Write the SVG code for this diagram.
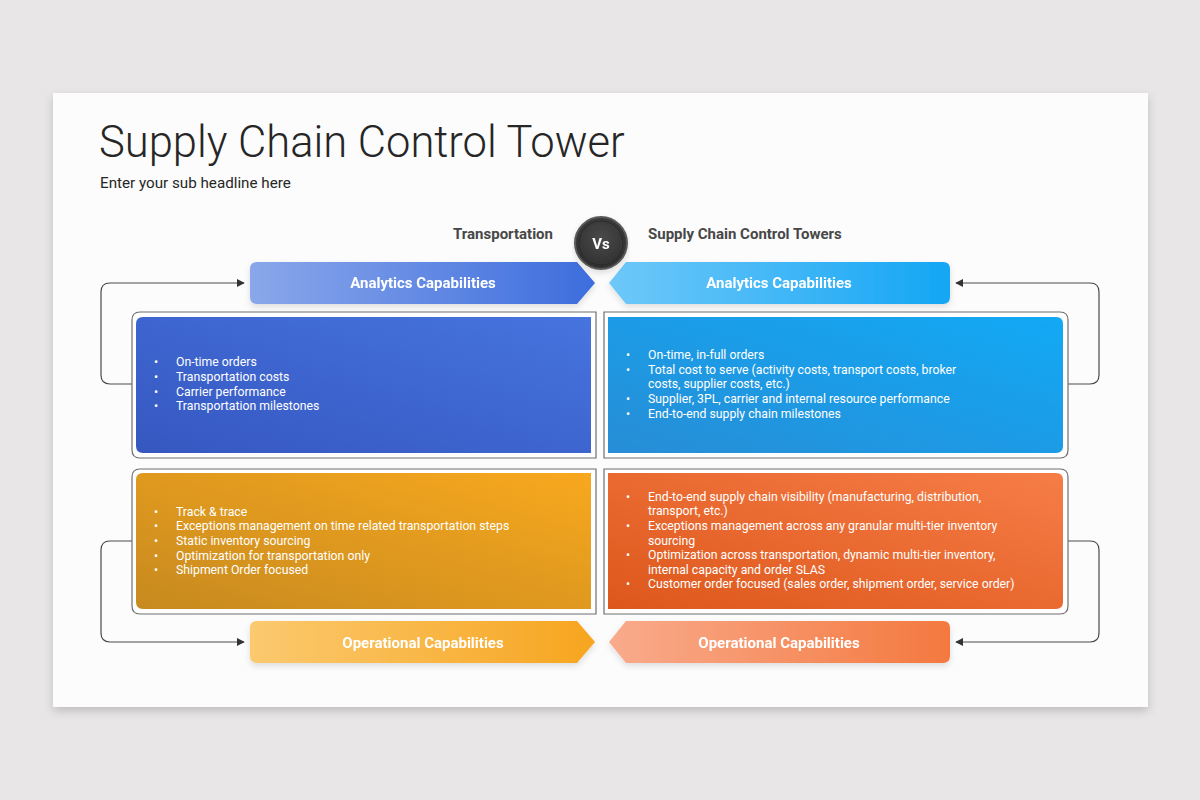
<svg xmlns="http://www.w3.org/2000/svg" width="1200" height="800" viewBox="0 0 1200 800">
<defs>
<style>
.t{font-family:Roboto,"Liberation Sans",sans-serif}
.title{font-size:43.5px;fill:#262626;font-weight:300}
.sub{font-size:15.2px;fill:#262626}
.hdr{font-size:15px;font-weight:700;fill:#474747}
.ban{font-size:15px;font-weight:700;fill:#ffffff}
.li{font-size:12.25px;fill:#ffffff}
.frame{fill:#ffffff;stroke:#6e6e6e;stroke-width:1.2}
.conn{fill:none;stroke:#4a4a4a;stroke-width:1.2}
</style>
<linearGradient id="gBanL" x1="0" y1="0" x2="1" y2="0"><stop offset="0" stop-color="#8aa7ea"/><stop offset="1" stop-color="#3d6ddd"/></linearGradient>
<linearGradient id="gBanR" x1="0" y1="0" x2="1" y2="0"><stop offset="0" stop-color="#6fc8f9"/><stop offset="1" stop-color="#14a6f4"/></linearGradient>
<linearGradient id="gOpL" x1="0" y1="0" x2="1" y2="0"><stop offset="0" stop-color="#fbc96f"/><stop offset="1" stop-color="#f7a51f"/></linearGradient>
<linearGradient id="gOpR" x1="0" y1="0" x2="1" y2="0"><stop offset="0" stop-color="#f9ab8c"/><stop offset="1" stop-color="#f4793f"/></linearGradient>
<linearGradient id="gBL" x1="0" y1="1" x2="1" y2="0"><stop offset="0" stop-color="#3657c0"/><stop offset="1" stop-color="#4674df"/></linearGradient>
<linearGradient id="gBR" x1="0" y1="1" x2="1" y2="0"><stop offset="0" stop-color="#278dd6"/><stop offset="1" stop-color="#12a9f5"/></linearGradient>
<linearGradient id="gOL" x1="0" y1="1" x2="1" y2="0"><stop offset="0" stop-color="#c78a1f"/><stop offset="1" stop-color="#f8a81e"/></linearGradient>
<linearGradient id="gOR" x1="0" y1="1" x2="1" y2="0"><stop offset="0" stop-color="#dd571b"/><stop offset="1" stop-color="#f67d47"/></linearGradient>
<radialGradient id="gVs" cx="0.5" cy="0.4" r="0.6"><stop offset="0" stop-color="#4a4a4a"/><stop offset="1" stop-color="#2f2f2f"/></radialGradient>
<filter id="card" x="-5%" y="-5%" width="110%" height="115%"><feDropShadow dx="0" dy="4" stdDeviation="5" flood-color="#000" flood-opacity="0.18"/></filter>
<filter id="sh" x="-5%" y="-20%" width="110%" height="160%"><feDropShadow dx="0" dy="3" stdDeviation="3" flood-color="#000" flood-opacity="0.12"/></filter>
<marker id="arr" viewBox="0 0 10 10" refX="9" refY="5" markerWidth="8" markerHeight="8" markerUnits="userSpaceOnUse" orient="auto"><path d="M0,0 L10,5 L0,10 z" fill="#333"/></marker>
</defs>
<rect x="0" y="0" width="1200" height="800" fill="#e8e6e7"/>
<rect x="53" y="93" width="1095" height="614" fill="#fcfcfc" filter="url(#card)"/>

<g id="title">
<text class="t title" x="99" y="157">Supply Chain Control Tower</text>
<text class="t sub" x="100" y="188">Enter your sub headline here</text>
</g>

<g id="headers">
<text class="t hdr" x="553" y="239" text-anchor="end">Transportation</text>
<text class="t hdr" x="648" y="239">Supply Chain Control Towers</text>
</g>

<g id="connectors">
<path class="conn" d="M132,384 H110 Q101,384 101,375 V292 Q101,283 110,283 H244" marker-end="url(#arr)"/>
<path class="conn" d="M132,541 H110 Q101,541 101,550 V633 Q101,642 110,642 H244" marker-end="url(#arr)"/>
<path class="conn" d="M1068,384 H1090 Q1099,384 1099,375 V292 Q1099,283 1090,283 H956" marker-end="url(#arr)"/>
<path class="conn" d="M1068,541 H1090 Q1099,541 1099,550 V633 Q1099,642 1090,642 H956" marker-end="url(#arr)"/>
</g>

<g id="analytics-left" filter="url(#sh)">
<path d="M257,262 H577 L595,283 L577,304 H257 Q250,304 250,297 V269 Q250,262 257,262 Z" fill="url(#gBanL)"/>
<text class="t ban" x="423" y="288" text-anchor="middle">Analytics Capabilities</text>
</g>
<g id="analytics-right" filter="url(#sh)">
<path d="M943,262 H626 L609,283 L626,304 H943 Q950,304 950,297 V269 Q950,262 943,262 Z" fill="url(#gBanR)"/>
<text class="t ban" x="779" y="288" text-anchor="middle">Analytics Capabilities</text>
</g>

<g id="box-analytics-left">
<path class="frame" d="M140,312 H596 V458 H140 Q132,458 132,450 V320 Q132,312 140,312 Z"/>
<path d="M143,317 H591 V453 H143 Q136,453 136,446 V324 Q136,317 143,317 Z" fill="url(#gBL)"/>
<g class="t li">
<text x="154" y="366">•</text><text x="176" y="366">On-time orders</text>
<text x="154" y="381">•</text><text x="176" y="381">Transportation costs</text>
<text x="154" y="396">•</text><text x="176" y="396">Carrier performance</text>
<text x="154" y="410">•</text><text x="176" y="410">Transportation milestones</text>
</g>
</g>

<g id="box-analytics-right">
<path class="frame" d="M604,312 H1060 Q1068,312 1068,320 V450 Q1068,458 1060,458 H604 Z"/>
<path d="M608,317 H1056 Q1063,317 1063,324 V446 Q1063,453 1056,453 H608 Z" fill="url(#gBR)"/>
<g class="t li">
<text x="626" y="359">•</text><text x="648" y="359">On-time, in-full orders</text>
<text x="626" y="374">•</text><text x="648" y="374">Total cost to serve (activity costs, transport costs, broker</text>
<text x="648" y="388">costs, supplier costs, etc.)</text>
<text x="626" y="403">•</text><text x="648" y="403">Supplier, 3PL, carrier and internal resource performance</text>
<text x="626" y="418">•</text><text x="648" y="418">End-to-end supply chain milestones</text>
</g>
</g>

<g id="box-operational-left">
<path class="frame" d="M140,469 H596 V614 H140 Q132,614 132,606 V477 Q132,469 140,469 Z"/>
<path d="M143,473 H591 V609 H143 Q136,609 136,602 V480 Q136,473 143,473 Z" fill="url(#gOL)"/>
<g class="t li">
<text x="154" y="516">•</text><text x="176" y="516">Track &amp; trace</text>
<text x="154" y="530">•</text><text x="176" y="530">Exceptions management on time related transportation steps</text>
<text x="154" y="545">•</text><text x="176" y="545">Static inventory sourcing</text>
<text x="154" y="560">•</text><text x="176" y="560">Optimization for transportation only</text>
<text x="154" y="574">•</text><text x="176" y="574">Shipment Order focused</text>
</g>
</g>

<g id="box-operational-right">
<path class="frame" d="M604,469 H1060 Q1068,469 1068,477 V606 Q1068,614 1060,614 H604 Z"/>
<path d="M608,473 H1056 Q1063,473 1063,480 V602 Q1063,609 1056,609 H608 Z" fill="url(#gOR)"/>
<g class="t li">
<text x="626" y="501">•</text><text x="648" y="501">End-to-end supply chain visibility (manufacturing, distribution,</text>
<text x="648" y="515">transport, etc.)</text>
<text x="626" y="530">•</text><text x="648" y="530">Exceptions management across any granular multi-tier inventory</text>
<text x="648" y="545">sourcing</text>
<text x="626" y="559">•</text><text x="648" y="559">Optimization across transportation, dynamic multi-tier inventory,</text>
<text x="648" y="574">internal capacity and order SLAS</text>
<text x="626" y="588">•</text><text x="648" y="588">Customer order focused (sales order, shipment order, service order)</text>
</g>
</g>

<g id="operational-left" filter="url(#sh)">
<path d="M257,621 H577 L595,642 L577,663 H257 Q250,663 250,656 V628 Q250,621 257,621 Z" fill="url(#gOpL)"/>
<text class="t ban" x="423" y="647.5" text-anchor="middle">Operational Capabilities</text>
</g>
<g id="operational-right" filter="url(#sh)">
<path d="M943,621 H626 L609,642 L626,663 H943 Q950,663 950,656 V628 Q950,621 943,621 Z" fill="url(#gOpR)"/>
<text class="t ban" x="779" y="647.5" text-anchor="middle">Operational Capabilities</text>
</g>

<g id="vs" filter="url(#sh)">
<circle cx="601" cy="243" r="26" fill="url(#gVs)" stroke="#5a5a5a" stroke-width="2"/>
<circle cx="601" cy="243" r="22" fill="none" stroke="#2a2a2a" stroke-width="1"/>
<text class="t" x="601" y="248.5" text-anchor="middle" font-size="15" font-weight="700" fill="#ffffff">Vs</text>
</g>
</svg>
